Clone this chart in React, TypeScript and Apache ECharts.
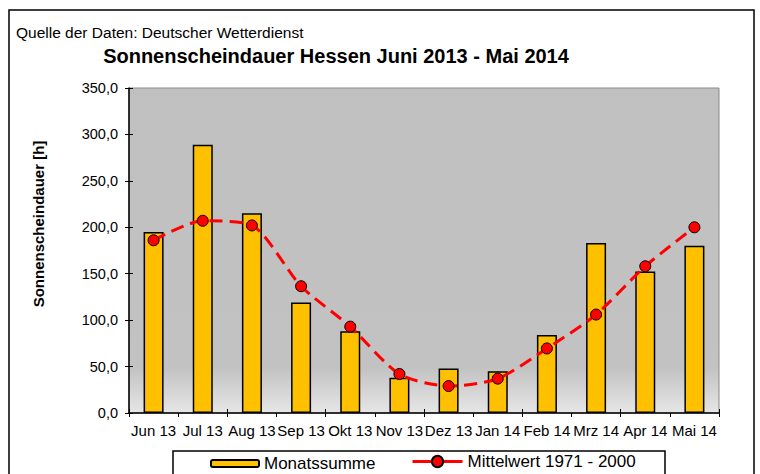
import React, { useEffect, useRef } from "react";
import * as echarts from "echarts";

const categories = [
  "Jun 13", "Jul 13", "Aug 13", "Sep 13", "Okt 13", "Nov 13",
  "Dez 13", "Jan 14", "Feb 14", "Mrz 14", "Apr 14", "Mai 14",
];
const monatssumme = [195, 289, 215, 119, 88, 38, 48, 45, 84, 183, 152.5, 180];
const mittelwert = [186, 207, 202, 136.5, 93, 42, 29, 37, 69.5, 106, 158, 200];
const yMin = 0;
const yMax = 350;
const yInterval = 50;

const FONT = "'Liberation Sans', Arial, sans-serif";

export default function App() {
  const ref = useRef<HTMLDivElement>(null);
  useEffect(() => {
    document.body.style.margin = "0";
    const chart = echarts.init(ref.current!, null, { renderer: "svg" });
    const fmt = (v: number) => v.toFixed(1).replace(".", ",");
    chart.setOption({
      animation: false,
      backgroundColor: "#ffffff",
      textStyle: { fontFamily: FONT, color: "#000" },
      grid: {
        left: 129,
        top: 88,
        right: 41,
        bottom: 61,
        show: true,
        borderColor: "#8a8a8a",
        borderWidth: 1,
        backgroundColor: new echarts.graphic.LinearGradient(0, 0, 0, 1, [
          { offset: 0, color: "#c0c0c0" },
          { offset: 0.86, color: "#c2c2c2" },
          { offset: 1, color: "#e6e6e6" },
        ]),
      },
      xAxis: [
        {
          type: "category",
          data: categories,
          boundaryGap: true,
          axisLine: { lineStyle: { color: "#000", width: 1.5 } },
          axisTick: { show: true, inside: false, length: 4, lineStyle: { color: "#000", width: 1 } },
          axisLabel: { color: "#000", fontSize: 15, fontFamily: FONT, margin: 10, interval: 0 },
          splitLine: { show: false },
        },
        {
          type: "category",
          data: categories,
          position: "bottom",
          boundaryGap: true,
          axisLine: { show: false },
          axisTick: { show: true, inside: true, length: 4, lineStyle: { color: "#000", width: 1 } },
          axisLabel: { show: false },
          splitLine: { show: false },
        },
      ],
      yAxis: [
        {
          type: "value",
          min: yMin,
          max: yMax,
          interval: yInterval,
          axisLine: { show: true, lineStyle: { color: "#000", width: 1.5 } },
          axisTick: { show: true, inside: false, length: 4, lineStyle: { color: "#000", width: 1 } },
          axisLabel: { color: "#000", fontSize: 14.5, fontFamily: FONT, margin: 11, formatter: fmt },
          splitLine: { show: false },
        },
        {
          type: "value",
          position: "left",
          min: yMin,
          max: yMax,
          interval: yInterval,
          axisLine: { show: false },
          axisTick: { show: true, inside: true, length: 4, lineStyle: { color: "#000", width: 1 } },
          axisLabel: { show: false },
          splitLine: { show: false },
        },
      ],
      legend: [
        {
          data: ["Monatssumme"],
          left: 210,
          top: 455,
          padding: 0,
          itemWidth: 48,
          itemHeight: 7,
          itemGap: 0,
          textStyle: { fontSize: 17, fontFamily: FONT, color: "#000" },
          z: 10,
        },
        {
          data: ["Mittelwert 1971 - 2000"],
          left: 411,
          top: 453,
          padding: 0,
          itemWidth: 50,
          itemHeight: 14,
          itemGap: 0,
          lineStyle: { type: "solid", width: 3, color: "#ff0000" },
          textStyle: { fontSize: 17, fontFamily: FONT, color: "#000" },
          z: 10,
        },
      ],
      graphic: [
        {
          type: "rect",
          z: 0,
          shape: { x: 9, y: 10, width: 745, height: 490 },
          style: { fill: "none", stroke: "#000", lineWidth: 1.5 },
        },
        {
          type: "rect",
          z: 1,
          shape: { x: 173, y: 451, width: 492, height: 40 },
          style: { fill: "#fff", stroke: "#000", lineWidth: 1.5 },
        },
        {
          type: "text",
          x: 16,
          y: 32,
          style: {
            text: "Quelle der Daten: Deutscher Wetterdienst",
            font: `15.5px ${FONT}`,
            fill: "#000",
            textAlign: "left",
            textVerticalAlign: "middle",
          },
        },
        {
          type: "text",
          x: 336,
          y: 56,
          style: {
            text: "Sonnenscheindauer Hessen Juni 2013 - Mai 2014",
            font: `bold 20px ${FONT}`,
            fill: "#000",
            textAlign: "center",
            textVerticalAlign: "middle",
          },
        },
        {
          type: "text",
          x: 38,
          y: 224,
          rotation: Math.PI / 2,
          style: {
            text: "Sonnenscheindauer [h]",
            font: `bold 15px ${FONT}`,
            fill: "#000",
            textAlign: "center",
            textVerticalAlign: "middle",
          },
        },
      ],
      series: [
        {
          name: "Monatssumme",
          type: "bar",
          xAxisIndex: 0,
          yAxisIndex: 0,
          data: monatssumme,
          barWidth: 20,
          itemStyle: { color: "#FFC000", borderColor: "#000", borderWidth: 1.5 },
          z: 2,
        },
        {
          name: "Mittelwert 1971 - 2000",
          type: "line",
          xAxisIndex: 0,
          yAxisIndex: 0,
          data: mittelwert,
          smooth: 0.25,
          symbol: "circle",
          symbolSize: 11,
          lineStyle: { color: "#ff0000", width: 3, type: [13, 7] },
          itemStyle: { color: "#ff0000", borderColor: "#000", borderWidth: 1 },
          z: 3,
        },
      ],
    });
    return () => chart.dispose();
  }, []);
  return <div ref={ref} style={{ width: 760, height: 474 }} />;
}
